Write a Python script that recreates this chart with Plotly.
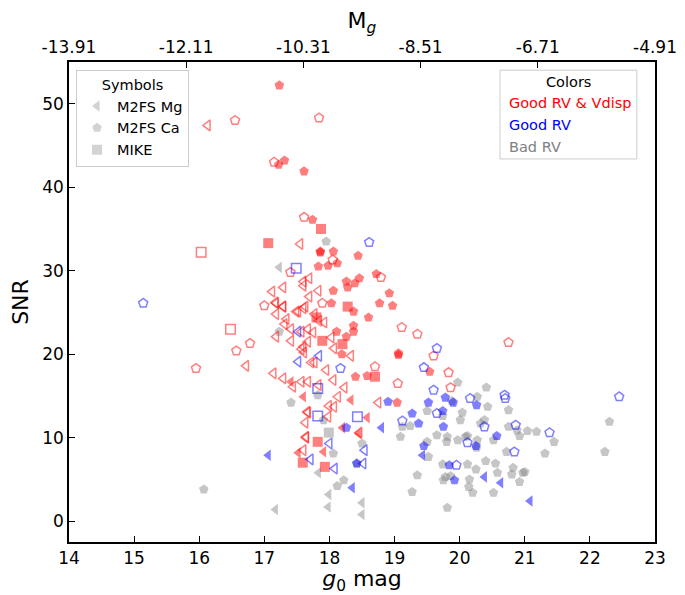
import plotly.graph_objects as go

# ---------------- data (g0 mag, SNR) ----------------
# Good RV & Vdisp (red)
red_mg_open_g = [16.13, 17.55, 17.69, 17.6, 17.6, 17.83, 17.29, 17.12, 17.69, 17.17, 17.29, 17.6, 17.49,
                 17.18, 17.29, 17.18, 17.34, 17.52, 17.31, 17.41, 17.57, 17.18, 17.41, 17.57, 17.6, 17.72,
                 17.67, 17.14, 17.29, 17.57, 17.44, 17.66, 17.63, 17.64, 16.72,
                 17.63, 17.77, 17.84, 17.92, 17.67, 17.75, 18.03, 18.07, 18.33, 17.77, 17.95, 17.61, 17.67,
                 17.83, 18.06, 18.23, 18.13, 17.99, 18.07, 17.67, 17.98, 18.46, 18.75, 17.6, 17.64]
red_mg_open_snr = [47.4, 33.2, 29.1, 28.7, 28.2, 27.6, 28.0, 27.5, 26.9, 26.2, 25.7, 25.5, 25.1,
                   26.1, 25.7, 24.8, 24.2, 25.1, 23.6, 23.0, 22.7, 22.1, 21.6, 20.6, 20.9, 19.0,
                   21.5, 17.7, 17.1, 16.7, 16.1, 13.1, 11.8, 10.1, 18.6,
                   25.7, 24.8, 24.0, 23.8, 23.0, 22.6, 22.0, 20.7, 19.8, 19.0, 18.1, 20.2, 16.7,
                   16.3, 16.9, 16.0, 14.9, 13.8, 13.7, 13.0, 12.5, 10.6, 14.2, 8.5, 10.0]
red_mg_fill_g = [17.41, 17.6, 18.58, 18.2, 18.45, 17.52, 17.91, 18.33]
red_mg_fill_snr = [16.7, 14.9, 12.4, 11.2, 10.5, 8.2, 8.3, 14.5]

red_ca_open_g = [16.55, 17.84, 17.15, 17.61, 18.05, 18.79, 17.4, 17.89, 17.0, 16.78, 16.57, 15.95,
                 19.11, 19.35, 18.7, 19.05, 20.75, 19.6, 19.83, 19.86]
red_ca_open_snr = [48.0, 48.3, 43.0, 36.4, 31.3, 29.2, 29.8, 26.1, 25.8, 21.3, 20.4, 18.3,
                   23.2, 22.4, 18.5, 16.5, 21.4, 19.8, 17.8, 16.0]
red_ca_fill_g = [17.23, 17.22, 17.31, 17.61, 17.74, 17.86, 18.06, 18.44, 18.12, 17.83, 17.98, 18.26,
                 18.46, 18.39, 18.28, 18.72, 18.92, 18.77, 18.97, 18.06, 18.03, 18.37, 18.6, 18.37,
                 18.37, 18.11, 18.26, 18.19, 19.06, 18.4, 18.58, 19.04, 19.54, 17.86, 19.06]
red_ca_fill_snr = [52.2, 42.7, 43.2, 41.9, 36.1, 32.3, 32.3, 31.8, 30.9, 30.5, 30.6, 28.7,
                   29.1, 28.5, 28.0, 29.6, 27.3, 26.1, 25.8, 27.6, 26.1, 25.1, 24.4, 23.4,
                   22.7, 22.7, 22.1, 20.0, 20.1, 17.3, 17.4, 14.2, 17.9, 32.2, 19.9]

red_mike_open_g = [16.03, 16.48]
red_mike_open_snr = [32.2, 23.0]
red_mike_fill_g = [17.06, 17.87, 18.28, 17.8, 17.89, 18.2, 18.7, 17.82, 17.59, 17.93]
red_mike_fill_snr = [33.3, 35.0, 25.7, 24.4, 21.6, 21.2, 17.3, 9.5, 7.0, 6.5]

# Good RV (blue)
blue_mg_open_g = [17.52, 17.52, 17.84, 18.0, 17.71, 18.08, 18.54, 18.52]
blue_mg_open_snr = [22.7, 19.1, 19.8, 9.3, 7.4, 6.3, 8.5, 6.9]
blue_mg_fill_g = [17.06, 18.35, 18.8, 19.43, 20.38, 20.63, 21.08]
blue_mg_fill_snr = [7.9, 4.0, 11.2, 7.9, 5.3, 4.6, 2.4]

blue_ca_open_g = [15.14, 18.61, 18.17, 19.12, 19.65, 19.45, 19.6, 20.16, 20.69, 20.7, 19.65, 20.38,
                  20.86, 21.38, 20.12, 20.84, 19.95, 22.45]
blue_ca_open_snr = [26.1, 33.4, 18.3, 12.0, 20.7, 18.4, 15.7, 14.7, 15.1, 14.7, 12.9, 11.3,
                    11.5, 10.6, 9.4, 8.3, 6.7, 14.9]
blue_ca_fill_g = [18.9, 18.26, 19.27, 19.78, 19.9, 19.52, 20.26, 19.74, 19.37, 19.75, 20.25, 20.57,
                  19.45, 19.84, 19.92, 18.42]
blue_ca_fill_snr = [14.3, 11.2, 12.9, 14.8, 14.2, 14.2, 13.9, 13.2, 11.7, 11.3, 9.0, 10.2,
                    9.0, 6.7, 4.9, 6.9]

blue_mike_open_g = [17.49, 17.82, 17.82, 18.43]
blue_mike_open_snr = [30.3, 15.9, 12.6, 12.5]

# Bad RV (grey)
grey_mg_g = [17.23, 17.83, 17.99, 18.5, 17.17, 17.98, 18.5]
grey_mg_snr = [30.4, 5.8, 3.2, 2.2, 1.4, 1.7, 0.8]

grey_ca_g = [17.95, 17.23, 17.41, 17.82, 17.91, 18.5, 18.06, 18.42, 18.22, 18.12, 16.07,
             19.97, 20.41, 19.88, 20.27, 20.43, 20.75, 19.5, 19.74, 20.04, 20.01, 20.38, 20.32,
             19.12, 19.24, 21.04, 21.18, 20.75, 20.88, 20.92, 21.45, 19.09, 19.5, 19.65, 19.81,
             19.8, 19.97, 20.09, 20.12, 20.27, 20.26, 20.52, 19.52, 20.72, 21.31, 20.4, 20.55,
             19.74, 20.12, 20.25, 20.58, 20.82, 20.97, 20.8, 19.78, 19.86, 19.75, 20.15, 20.14,
             20.2, 19.35, 20.92, 20.52, 19.27, 19.81, 22.3, 22.23, 21.0]
grey_ca_snr = [33.5, 22.7, 14.2, 15.1, 12.1, 9.3, 8.1, 6.9, 4.9, 4.2, 3.8,
               16.6, 16.0, 14.4, 14.9, 13.7, 13.3, 13.2, 12.6, 13.0, 12.1, 12.1, 11.7,
               11.3, 11.4, 10.8, 10.7, 11.3, 10.9, 10.2, 9.5, 10.1, 9.5, 10.3, 10.1,
               9.5, 9.7, 10.1, 10.2, 9.7, 8.8, 9.7, 7.7, 8.3, 8.1, 7.2, 6.9,
               6.8, 6.8, 6.2, 5.8, 6.4, 5.8, 5.6, 5.3, 5.4, 4.9, 5.0, 4.1,
               3.4, 5.5, 4.7, 3.4, 3.5, 1.6, 11.9, 8.3, 5.9]
grey_mike_g = [17.99]
grey_mike_snr = [10.6]

# top axis: absolute magnitude labels
distance_modulus = 27.91
top_tick_g = [14.0, 15.8, 17.6, 19.4, 21.2, 23.0]
top_tick_labels = [f"{g - distance_modulus:.2f}" for g in top_tick_g]

# ---------------- styling ----------------
RED = "rgba(255,0,0,0.5)"
BLUE = "rgba(0,0,255,0.5)"
GREY = "rgba(128,128,128,0.45)"
FONT = "DejaVu Sans"
MS = 10
LEG = 14.5

fig = go.Figure()


def add(g, snr, symbol, color, filled):
    if filled:
        marker = dict(symbol=symbol, size=MS, color=color, line=dict(width=0))
    else:
        marker = dict(symbol=symbol + "-open", size=MS - 0.5, color=color,
                      line=dict(width=1.5, color=color))
    fig.add_trace(go.Scatter(x=g, y=snr, mode="markers", marker=marker, showlegend=False,
                             hoverinfo="skip"))


add(grey_ca_g, grey_ca_snr, "pentagon", GREY, True)
add(grey_mg_g, grey_mg_snr, "triangle-left", GREY, True)
add(grey_mike_g, grey_mike_snr, "square", GREY, True)
add(red_mg_open_g, red_mg_open_snr, "triangle-left", RED, False)
add(red_mg_fill_g, red_mg_fill_snr, "triangle-left", RED, True)
add(red_ca_open_g, red_ca_open_snr, "pentagon", RED, False)
add(red_ca_fill_g, red_ca_fill_snr, "pentagon", RED, True)
add(red_mike_open_g, red_mike_open_snr, "square", RED, False)
add(red_mike_fill_g, red_mike_fill_snr, "square", RED, True)
add(blue_mg_open_g, blue_mg_open_snr, "triangle-left", BLUE, False)
add(blue_mg_fill_g, blue_mg_fill_snr, "triangle-left", BLUE, True)
add(blue_ca_open_g, blue_ca_open_snr, "pentagon", BLUE, False)
add(blue_ca_fill_g, blue_ca_fill_snr, "pentagon", BLUE, True)
add(blue_mike_open_g, blue_mike_open_snr, "square", BLUE, False)

# Symbols legend entries
for name, sym in [("M2FS Mg", "triangle-left"), ("M2FS Ca", "pentagon"), ("MIKE", "square")]:
    fig.add_trace(go.Scatter(x=[None], y=[None], mode="markers", name=name,
                             marker=dict(symbol=sym, size=MS, color="rgba(128,128,128,0.35)")))

# dummy trace to activate top axis
fig.add_trace(go.Scatter(x=[None], y=[None], xaxis="x2", showlegend=False))

axis_common = dict(showline=True, linecolor="black", linewidth=1.5, ticks="inside", ticklen=6,
                   tickwidth=1.2, tickcolor="black", showgrid=False, zeroline=False,
                   automargin=False,
                   tickfont=dict(family=FONT, size=17, color="black"))

# the page body adds an 8px offset, so the figure is 8px smaller than the window
fig.update_layout(
    width=677, height=587,
    margin=dict(l=61, r=30, t=54, b=53),
    plot_bgcolor="white", paper_bgcolor="white",
    font=dict(family=FONT, color="black"),
    xaxis=dict(range=[14, 23], tickvals=list(range(14, 24)), mirror=False,
               title=dict(text="<i>g</i><sub>0</sub> mag", font=dict(size=22), standoff=6),
               **axis_common),
    xaxis2=dict(range=[14, 23], overlaying="x", side="top", tickvals=top_tick_g,
                ticktext=top_tick_labels, anchor="y",
                title=dict(text="M<sub><i>g</i></sub>", font=dict(size=22), standoff=6),
                **axis_common),
    yaxis=dict(range=[-2.5, 55], tickvals=[0, 10, 20, 30, 40, 50], mirror=True,
               title=dict(text="SNR", font=dict(size=22), standoff=10), **axis_common),
    legend=dict(x=0.012, y=0.983, xanchor="left", yanchor="top",
                title=dict(text="Symbols", side="top center", font=dict(size=LEG, family=FONT)),
                font=dict(size=LEG, family=FONT), bgcolor="white",
                bordercolor="#cccccc", borderwidth=1, itemwidth=30),
)

# Colors legend box
fig.add_shape(type="rect", xref="paper", yref="paper", x0=0.7355, x1=0.969, y0=0.798, y1=0.983,
              line=dict(color="#cccccc", width=1), fillcolor="white", layer="above")
fig.add_annotation(xref="paper", yref="paper", x=0.852, y=0.958, xanchor="center", yanchor="middle",
                   text="Colors", showarrow=False, font=dict(size=LEG, family=FONT, color="black"))
for txt, col, yp in [("Good RV &amp; Vdisp", "#ff0000", 0.915),
                     ("Good RV", "#0000ff", 0.869),
                     ("Bad RV", "#808080", 0.823)]:
    fig.add_annotation(xref="paper", yref="paper", x=0.747, y=yp, xanchor="left", yanchor="middle",
                       showarrow=False, text=txt, font=dict(size=LEG, family=FONT, color=col))

fig.write_html("out.html")
